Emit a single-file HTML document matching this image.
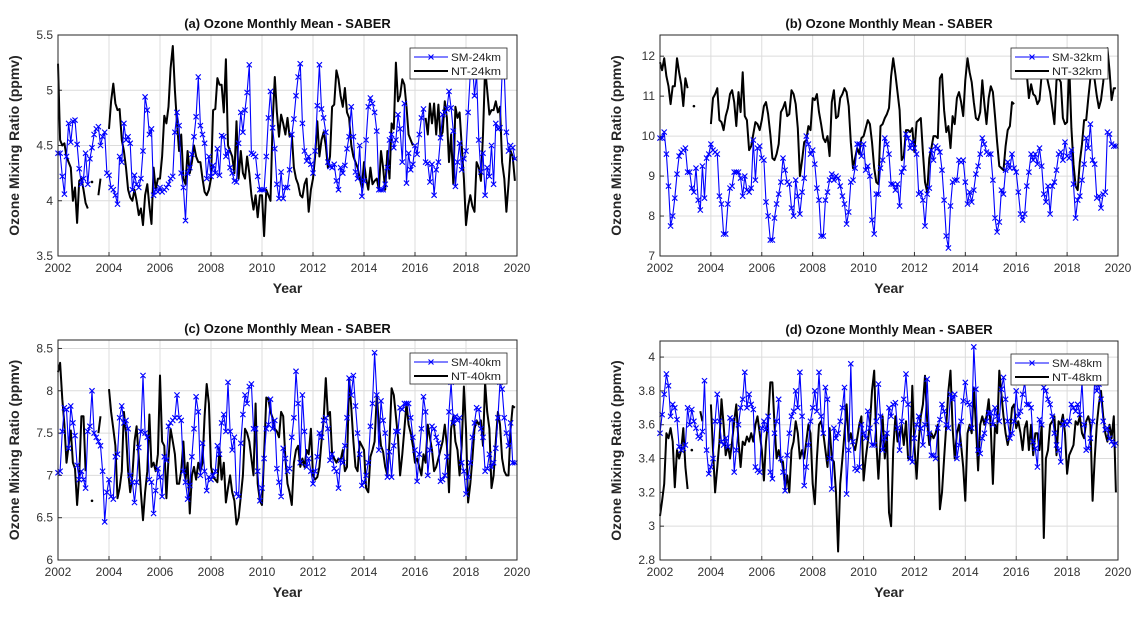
<!DOCTYPE html>
<html><head><meta charset="utf-8"><style>
html,body{margin:0;padding:0;background:#fff;}
svg{display:block;font-family:"Liberation Sans",Arial,sans-serif;}
</style></head><body>
<svg id="fig" width="1147" height="618" viewBox="0 0 1147 618" xmlns="http://www.w3.org/2000/svg"></svg>
<script>
const xTicks = [2002,2004,2006,2008,2010,2012,2014,2016,2018,2020];
const yTicksA = [3.5,4,4.5,5,5.5];
const yTicksB = [7,8,9,10,11,12];
const yTicksC = [6,6.5,7,7.5,8,8.5];
const yTicksD = [2.8,3,3.2,3.4,3.6,3.8,4];
const N = null;
const smA = [4.43,4.43,4.22,4.06,4.40,4.70,4.53,4.72,4.73,4.51,4.29,4.15,
4.20,4.43,4.15,4.38,4.48,4.60,4.65,4.67,4.50,4.58,4.62,4.25,
4.23,4.12,4.10,4.05,3.97,4.40,4.35,4.70,4.55,4.58,4.52,4.10,
4.23,4.15,4.12,4.20,4.45,4.94,4.82,4.60,4.65,4.05,4.10,4.08,
4.12,4.08,4.10,4.12,4.15,4.20,4.22,4.62,4.80,4.68,4.25,4.12,
3.82,4.25,4.30,4.42,4.58,4.76,5.12,4.68,4.60,4.52,4.20,4.40,
4.22,4.32,4.25,4.47,4.23,4.59,4.58,4.40,4.45,4.30,4.25,4.18,
4.17,4.52,4.80,4.62,4.82,4.98,5.23,4.43,4.42,4.40,4.22,4.10,
4.10,4.10,4.40,4.75,4.99,4.66,4.47,4.15,4.02,4.26,4.02,4.12,
4.12,4.28,4.60,4.74,4.95,5.12,5.24,4.70,4.45,4.36,4.40,4.33,
4.25,4.45,4.86,5.23,4.83,4.75,4.62,4.35,4.31,4.30,4.33,4.18,
4.10,4.30,4.25,4.32,4.47,4.58,4.85,4.58,4.26,4.20,4.50,4.04,
4.18,4.55,4.85,4.93,4.88,4.80,4.63,4.10,4.10,4.10,4.15,4.30,
4.55,4.60,4.48,4.55,4.78,4.65,4.35,4.88,4.16,4.43,4.28,4.33,
4.50,4.42,4.60,4.75,4.83,4.35,4.34,4.17,4.33,4.05,4.28,4.35,
4.57,4.78,4.80,4.83,4.99,4.84,4.63,4.13,4.35,4.52,4.28,4.38,
4.45,4.80,5.15,5.25,4.95,5.15,4.55,4.26,4.43,4.05,4.30,4.22,
4.50,4.15,4.70,4.65,4.66,5.15,5.15,4.62,4.45,4.50,4.48,4.38];
const ntA = [5.24,4.55,4.50,4.52,4.40,4.35,4.30,4.00,4.12,3.80,4.18,4.20,
4.10,3.98,3.93,N,4.17,N,N,4.05,4.20,N,N,N,
4.65,4.90,5.06,4.88,4.82,4.83,4.55,4.45,4.30,4.10,4.03,4.00,
4.10,4.00,3.87,3.93,3.78,4.05,4.15,3.95,3.79,4.30,4.10,4.20,
4.20,4.40,4.77,4.70,4.85,5.20,5.40,5.00,4.70,4.45,4.60,4.20,
4.15,4.45,4.25,4.35,4.50,4.40,4.35,4.35,4.20,4.08,4.05,4.10,
4.20,4.82,4.83,5.11,5.05,5.05,4.80,5.28,4.50,4.45,4.40,4.25,
4.72,4.20,4.45,4.25,4.20,4.40,4.25,4.05,3.92,4.05,3.85,4.05,
4.05,3.68,4.10,4.05,4.00,4.70,5.12,4.80,4.58,4.78,4.70,4.60,
4.75,4.58,4.60,4.30,4.20,4.15,4.05,4.03,4.15,4.20,3.90,4.10,
4.20,4.40,4.72,4.40,4.55,4.62,4.50,4.30,4.40,4.85,4.87,5.18,
5.10,4.95,4.85,5.02,4.80,4.75,4.50,4.40,4.35,4.30,4.20,4.12,
4.35,4.20,4.10,4.30,4.15,4.18,4.20,4.10,4.45,4.30,4.10,4.45,
4.20,4.70,4.65,5.25,4.90,4.95,5.10,5.05,4.85,4.60,4.55,4.50,
N,N,N,N,N,4.75,4.60,4.88,4.70,4.88,4.60,4.87,
4.58,4.62,4.90,4.75,4.35,4.60,4.15,4.85,4.75,4.80,4.50,4.20,
3.78,3.95,4.05,3.95,3.90,4.35,4.30,4.18,4.60,5.20,5.00,4.78,
4.82,4.82,4.90,4.80,4.85,4.35,4.20,3.90,4.15,4.45,4.40,4.18];
const smB = [9.95,9.95,10.10,9.55,8.75,7.75,8.00,8.45,9.05,9.50,9.60,9.65,
9.70,9.10,9.10,8.70,8.60,9.20,8.40,8.15,9.25,8.45,9.45,9.55,
9.80,9.65,9.60,9.55,8.50,8.30,7.55,7.55,8.30,8.70,8.75,9.10,
9.10,9.10,8.95,8.50,9.00,8.65,8.60,8.70,9.90,8.90,9.70,9.75,
9.45,9.40,8.35,8.00,7.40,7.40,7.95,8.30,8.55,8.85,9.45,9.15,
8.85,8.80,8.20,8.00,8.90,8.50,8.05,8.60,8.95,10.00,9.80,9.55,
9.65,9.30,8.70,8.40,7.50,7.50,8.40,8.60,8.90,9.05,8.90,9.00,
8.95,8.75,8.50,8.30,7.80,8.10,8.85,8.90,9.20,9.80,9.80,9.50,
9.80,9.15,9.25,9.00,7.90,7.55,8.55,8.55,9.20,9.40,9.95,9.80,
9.55,8.80,8.80,8.65,8.80,8.25,9.10,9.20,10.05,9.95,9.70,9.85,
9.70,9.55,8.55,8.60,8.40,7.75,8.55,8.70,9.65,9.40,9.75,9.70,
9.60,9.15,8.40,7.50,7.20,8.25,8.85,8.90,8.90,9.40,9.35,9.40,
8.85,8.30,8.60,8.35,8.65,9.05,9.25,9.55,9.95,9.80,9.60,9.55,
9.55,8.90,7.95,7.60,7.85,8.65,8.55,9.15,9.35,9.20,9.55,9.20,
9.10,8.60,8.05,7.90,8.05,8.75,9.10,9.55,9.40,9.55,9.30,9.70,
9.25,8.55,8.35,8.75,8.05,8.75,8.85,9.15,9.55,9.60,9.40,9.85,
9.50,9.45,9.65,8.80,7.95,8.40,8.50,8.90,9.30,9.95,9.70,10.30,
9.40,9.30,8.45,8.50,8.20,8.55,8.60,10.10,10.05,9.80,9.75,9.75];
const ntB = [11.85,11.65,11.95,11.50,11.25,10.80,11.25,11.25,11.95,11.60,11.30,10.75,
11.45,11.20,N,N,10.75,N,N,N,N,N,N,N,
10.30,10.95,11.05,11.20,10.40,10.35,10.15,10.50,10.70,11.05,11.15,10.85,
10.25,11.10,10.60,11.60,10.50,10.40,9.65,9.75,10.05,10.35,10.30,10.15,
10.40,10.75,10.85,10.55,10.05,9.45,9.40,9.55,9.80,10.60,10.70,10.85,
10.50,10.55,11.15,11.05,10.80,10.20,9.00,9.40,9.85,9.90,10.25,10.15,
10.95,10.90,11.05,10.60,10.30,9.95,9.85,10.00,9.50,10.85,11.15,10.45,
10.50,10.95,11.05,11.20,11.10,10.75,9.85,9.20,9.45,9.70,9.55,9.95,
10.00,10.20,10.40,10.30,9.85,9.20,8.85,8.80,10.25,10.30,10.45,10.55,
10.70,11.50,11.95,11.55,11.10,10.65,9.40,9.50,10.15,10.15,10.10,10.20,
9.60,10.35,10.40,10.45,9.60,8.85,8.60,9.45,9.70,10.00,10.00,9.95,
11.45,11.55,10.65,10.10,10.25,9.70,10.50,10.30,10.95,11.10,10.85,10.50,
11.40,11.95,11.60,11.35,10.85,10.45,10.40,10.60,11.40,10.80,10.30,10.95,
11.25,11.10,10.50,9.85,9.25,9.20,9.15,9.75,10.15,10.25,10.85,10.80,
N,N,N,N,N,11.55,10.95,11.30,11.05,11.00,10.80,10.90,
11.55,11.70,11.60,11.35,11.10,10.70,10.30,11.40,11.45,11.35,10.45,10.30,
10.35,11.80,10.20,9.30,8.75,8.65,9.35,9.80,10.40,10.40,10.95,11.45,
11.80,11.40,11.00,10.70,10.90,11.35,11.90,12.20,11.65,10.90,11.20,11.20];
const smC = [7.03,7.05,7.52,7.80,7.78,7.32,7.82,7.62,7.47,7.12,6.95,7.05,
6.95,6.85,7.52,7.58,8.00,7.50,7.45,7.40,7.35,7.05,6.45,6.80,
6.95,6.75,6.72,7.22,7.25,7.68,7.82,7.62,7.65,7.55,7.00,6.92,
6.68,6.92,7.33,7.52,8.18,7.50,7.45,6.95,6.92,6.55,6.82,7.08,
6.98,6.75,7.22,7.18,7.58,7.62,7.65,7.68,7.95,7.68,7.65,7.05,
6.92,6.72,6.88,7.22,7.55,7.93,7.75,7.00,7.38,7.05,6.82,6.98,
6.95,7.00,7.05,7.35,7.25,7.62,7.72,7.52,8.10,7.52,7.30,7.45,
6.78,6.75,7.38,7.72,7.95,7.85,8.05,8.08,7.55,7.55,7.05,6.70,
6.85,7.20,7.55,7.60,7.90,7.55,7.65,7.08,6.92,6.75,7.32,7.20,
7.05,7.08,7.45,7.68,8.23,7.85,7.15,7.95,7.52,7.10,7.20,7.05,
6.90,7.05,7.22,7.50,7.45,7.65,7.68,7.55,7.18,7.25,7.08,7.05,
6.85,7.18,7.15,7.35,7.68,8.15,7.95,8.18,7.82,7.50,7.25,6.88,
6.92,7.00,7.15,7.58,7.85,8.45,7.95,7.30,7.88,7.65,7.50,6.98,
7.28,6.98,7.35,7.52,7.52,7.80,7.78,7.85,7.85,7.85,7.68,7.45,
7.30,6.93,7.25,7.55,7.93,7.75,7.00,7.30,7.58,7.55,7.45,7.38,
6.93,6.95,7.00,7.22,7.75,8.10,7.62,7.70,7.65,7.68,7.15,7.05,
6.78,6.98,7.15,7.45,7.62,7.80,7.78,7.55,7.45,7.05,7.08,7.25,
7.10,7.15,7.32,7.68,8.10,8.02,7.68,7.50,7.35,7.62,7.15,7.15];
const ntC = [8.22,8.33,7.90,7.60,7.15,7.35,7.53,7.15,7.08,6.65,7.00,7.70,
7.70,7.05,N,N,6.70,N,N,7.50,7.70,N,N,N,
8.02,7.75,7.55,7.35,6.73,6.85,7.05,7.75,7.50,7.05,6.80,7.00,
7.40,7.58,7.20,6.80,6.47,6.80,7.05,7.72,7.10,7.15,7.05,7.25,
8.18,7.40,7.35,6.73,7.20,7.55,7.40,7.25,6.90,6.90,7.05,7.40,
6.95,7.15,6.55,7.00,7.10,6.95,7.15,7.05,7.15,7.70,8.08,7.85,
7.10,6.98,6.95,6.92,7.32,6.95,7.15,6.68,6.85,7.00,6.80,6.70,
6.42,6.50,6.75,7.00,7.55,7.50,7.40,7.20,7.00,7.85,6.90,6.70,
6.65,7.25,7.92,7.90,7.75,7.68,7.55,7.52,7.45,7.75,7.70,7.20,
6.90,6.80,6.65,7.15,7.30,7.35,7.10,7.20,7.10,7.30,7.25,7.55,
7.00,6.95,6.98,7.10,7.40,7.65,8.15,7.70,7.75,7.25,7.20,7.15,
7.20,7.18,7.30,7.05,7.10,8.15,7.80,7.40,7.10,7.05,7.40,7.35,
7.30,6.85,6.80,7.22,7.30,7.40,7.95,7.60,7.35,7.28,7.10,7.00,
7.40,8.03,7.95,7.70,7.45,7.00,7.25,7.55,7.85,7.60,7.50,7.35,
7.15,7.20,7.10,7.00,7.25,7.15,7.60,7.45,7.30,7.05,7.10,7.20,
7.30,7.40,7.60,7.35,6.80,7.55,7.70,7.40,7.30,7.00,7.35,8.05,
7.55,6.68,6.90,7.20,7.55,7.65,7.60,7.65,7.35,8.10,7.75,7.55,
6.85,7.00,7.40,7.75,7.60,7.20,7.05,7.00,7.00,7.55,7.82,7.80];
const smD = [3.55,3.66,3.78,3.90,3.83,3.65,3.72,3.70,3.63,3.47,3.45,3.46,
3.48,3.70,3.60,3.69,3.62,3.58,3.53,3.52,3.56,3.86,3.45,3.31,
3.35,3.40,3.62,3.78,3.62,3.50,3.48,3.52,3.47,3.64,3.63,3.32,
3.45,3.60,3.70,3.75,3.91,3.70,3.78,3.72,3.69,3.35,3.33,3.32,
3.58,3.62,3.57,3.65,3.32,3.28,3.55,3.62,3.75,3.40,3.32,3.21,
3.42,3.55,3.65,3.68,3.80,3.70,3.91,3.65,3.24,3.35,3.48,3.62,
3.70,3.80,3.68,3.91,3.65,3.55,3.82,3.75,3.40,3.22,3.58,3.52,
3.55,3.62,3.70,3.82,3.19,3.45,3.96,3.50,3.34,3.33,3.35,3.60,
3.55,3.52,3.68,3.58,3.48,3.48,3.62,3.84,3.65,3.45,3.52,3.55,
3.70,3.65,3.72,3.73,3.58,3.45,3.62,3.75,3.90,3.72,3.40,3.38,
3.52,3.60,3.65,3.58,3.48,3.60,3.87,3.55,3.42,3.42,3.40,3.58,
3.63,3.72,3.68,3.60,3.58,3.78,3.75,3.78,3.40,3.48,3.62,3.74,
3.85,3.73,3.72,3.58,4.06,3.81,3.45,3.43,3.52,3.55,3.62,3.67,
3.67,3.60,3.70,3.65,3.62,3.81,3.88,3.75,3.62,3.52,3.55,3.62,
3.80,3.65,3.68,3.78,3.85,3.72,3.72,3.70,3.50,3.46,3.35,3.63,
3.60,3.82,3.80,3.75,3.72,3.65,3.55,3.48,3.45,3.38,3.60,3.62,
3.60,3.62,3.72,3.70,3.68,3.72,3.66,3.85,3.60,3.45,3.46,3.52,
3.62,3.86,3.80,3.84,3.75,3.62,3.57,3.58,3.52,3.50,3.48,3.49];
const ntD = [3.06,3.15,3.25,3.55,3.52,3.58,3.50,3.23,3.45,3.40,3.45,3.58,
3.35,3.22,N,3.45,N,N,N,3.68,3.62,N,N,N,
3.72,3.45,3.20,3.35,3.50,3.75,3.60,3.42,3.48,3.40,3.50,3.62,
3.72,3.50,3.35,3.50,3.48,3.53,3.50,3.55,3.50,3.60,3.65,3.55,
3.45,3.27,3.50,3.62,3.85,3.85,3.60,3.40,3.45,3.38,3.38,3.22,
3.30,3.20,3.45,3.50,3.62,3.55,3.40,3.45,3.40,3.50,3.60,3.55,
3.25,3.13,3.40,3.60,3.62,3.55,3.45,3.35,3.58,3.40,3.38,3.20,
2.85,3.25,3.40,3.55,3.72,3.50,3.55,3.48,3.45,3.52,3.60,3.65,
3.27,3.40,3.50,3.60,3.80,3.92,3.50,3.28,3.50,3.65,3.40,3.55,
3.08,3.00,3.45,3.65,3.50,3.55,3.60,3.48,3.62,3.40,3.40,3.83,
3.48,3.28,3.50,3.65,3.72,3.89,3.62,3.48,3.55,3.52,3.55,3.60,
3.10,3.20,3.40,3.60,3.80,3.92,3.58,3.40,3.55,3.60,3.48,3.35,
3.15,3.55,3.60,3.55,3.82,3.60,3.33,3.60,3.65,3.60,3.65,3.75,
3.58,3.25,3.60,3.55,3.92,3.78,3.65,3.55,3.48,3.55,3.70,3.72,
3.58,3.62,3.55,3.45,3.58,3.62,3.45,3.60,3.42,3.55,3.55,3.45,
3.60,2.93,3.40,3.45,3.60,3.62,3.65,3.42,3.62,3.60,3.66,3.55,
3.31,3.42,3.45,3.48,3.62,3.60,3.65,3.55,3.52,3.62,3.65,3.60,
3.15,3.40,3.60,3.72,3.80,3.65,3.55,3.50,3.60,3.52,3.65,3.20];

const NS='http://www.w3.org/2000/svg';
const svg=document.getElementById('fig');
function mk(tag,attrs,parent){const e=document.createElementNS(NS,tag);for(const k in attrs)e.setAttribute(k,attrs[k]);(parent||svg).appendChild(e);return e;}
function fmt(v){return String(v);}

function panel(key,title,L,R,T,B,ymin,ymax,yt,sm,nt,smLabel,ntLabel){
  const g=mk('g',{});
  
  
  const xs=v=>L+(v-2002)/18*(R-L);
  const ys=v=>B-(v-ymin)/(ymax-ymin)*(B-T);
  mk('rect',{x:L,y:T,width:R-L,height:B-T,fill:'#fff'},g);
  xTicks.forEach(t=>{
    const x=xs(t);
    const gl=mk('line',{x1:x,x2:x,y1:T,y2:B,stroke:'#dcdcdc','stroke-width':1},g);
    
    
    mk('line',{x1:x,x2:x,y1:B,y2:B-4,stroke:'#333'},g);
    const tx=mk('text',{x:x,y:B+16,'text-anchor':'middle','font-size':12,fill:'#333'},g);
    tx.textContent=fmt(t);
    
    
  });
  yt.forEach(t=>{
    const y=ys(t);
    const gl=mk('line',{x1:L,x2:R,y1:y,y2:y,stroke:'#dcdcdc','stroke-width':1},g);
    
    
    mk('line',{x1:L,x2:L+4,y1:y,y2:y,stroke:'#333'},g);
    const tx=mk('text',{x:L-5,y:y+4,'text-anchor':'end','font-size':12,fill:'#333'},g);
    tx.textContent=fmt(t);
    
    
  });
  let d='',pen=false;
  nt.forEach((v,i)=>{ if(v===null){pen=false;return;} const x=xs(2002+i/12),y=ys(v); d+=(pen?'L':'M')+x.toFixed(1)+' '+y.toFixed(1); pen=true;});
  const ntp=mk('path',{d:d,fill:'none',stroke:'#000','stroke-width':2,'stroke-linejoin':'round'},g);
  
  
  nt.forEach((v,i)=>{ if(v!==null && (i===0||nt[i-1]===null) && (i===nt.length-1||nt[i+1]===null)){
    const c=mk('circle',{cx:xs(2002+i/12),cy:ys(v),r:1.3,fill:'#000'},g);
    
    
  }});
  d='';
  sm.forEach((v,i)=>{ const x=xs(2002+i/12),y=ys(v); d+=(i?'L':'M')+x.toFixed(1)+' '+y.toFixed(1);});
  const smp=mk('path',{d:d,fill:'none',stroke:'#0000ff','stroke-width':1.1},g);
  
  
  let md='';
  sm.forEach((v,i)=>{ const x=xs(2002+i/12),y=ys(v),s=2.6; md+=`M${(x-s).toFixed(1)} ${(y-s).toFixed(1)}L${(x+s).toFixed(1)} ${(y+s).toFixed(1)}M${(x-s).toFixed(1)} ${(y+s).toFixed(1)}L${(x+s).toFixed(1)} ${(y-s).toFixed(1)}`;});
  const mks=mk('path',{d:md,fill:'none',stroke:'#0000ff','stroke-width':1.1},g);
  
  
  mk('rect',{x:L,y:T,width:R-L,height:B-T,fill:'none',stroke:'#262626','stroke-width':1},g);
  const tt=mk('text',{x:(L+R)/2,y:T-7,'text-anchor':'middle','font-size':13,'font-weight':'bold',fill:'#111'},g);
  tt.textContent=title;
  
  
  const xl=mk('text',{x:(L+R)/2,y:B+37,'text-anchor':'middle','font-size':14,'font-weight':'bold',fill:'#262626'},g);
  xl.textContent='Year';
  
  
  const yx=L-39,yy=(T+B)/2;
  const yl=mk('text',{x:yx,y:yy,'text-anchor':'middle','font-size':14,'font-weight':'bold',fill:'#262626',transform:`rotate(-90 ${yx} ${yy})`},g);
  yl.textContent='Ozone Mixing Ratio (ppmv)';
  
  
  const lx=R-107,ly=T+13;
  const lg=mk('g',{},g);
  
  
  mk('rect',{x:lx,y:ly,width:97,height:31,fill:'#fff',stroke:'#262626','stroke-width':0.8},lg);
  mk('line',{x1:lx+4,x2:lx+38,y1:ly+9,y2:ly+9,stroke:'#0000ff','stroke-width':1.1},lg);
  mk('path',{d:`M${lx+18.5} ${ly+6.5}L${lx+23.5} ${ly+11.5}M${lx+18.5} ${ly+11.5}L${lx+23.5} ${ly+6.5}`,stroke:'#0000ff','stroke-width':1.1},lg);
  const t1=mk('text',{x:lx+41,y:ly+13,'font-size':11,fill:'#222',textLength:50,lengthAdjust:'spacingAndGlyphs'},lg);
  t1.textContent=smLabel;
  
  
  mk('line',{x1:lx+4,x2:lx+38,y1:ly+23,y2:ly+23,stroke:'#000','stroke-width':2},lg);
  const t2=mk('text',{x:lx+41,y:ly+27,'font-size':11,fill:'#222',textLength:50,lengthAdjust:'spacingAndGlyphs'},lg);
  t2.textContent=ntLabel;
  
  
}
panel('a','(a) Ozone Monthly Mean - SABER',58,517,35,256,3.5,5.5,yTicksA,smA,ntA,'SM-24km','NT-24km');
panel('b','(b) Ozone Monthly Mean - SABER',660,1118,35,256,7,12.53,yTicksB,smB,ntB,'SM-32km','NT-32km');
panel('c','(c) Ozone Monthly Mean - SABER',58,517,340,560,6,8.6,yTicksC,smC,ntC,'SM-40km','NT-40km');
panel('d','(d) Ozone Monthly Mean - SABER',660,1118,341,560,2.8,4.095,yTicksD,smD,ntD,'SM-48km','NT-48km');
</script>
</body></html>
